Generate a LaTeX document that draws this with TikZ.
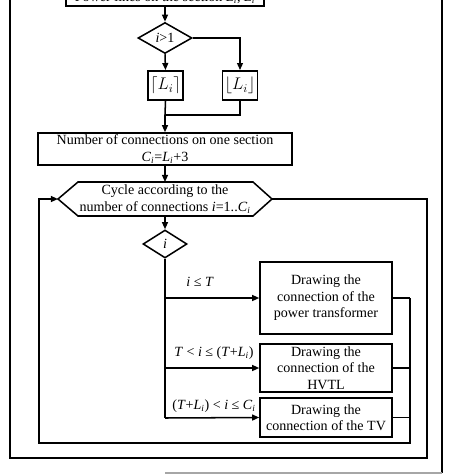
\documentclass[tikz,border=0pt]{standalone}
\usepackage{fontspec}
\setmainfont{Liberation Serif}
\usetikzlibrary{arrows.meta,shapes.geometric}
\newcommand{\vsub}[2]{\textit{#1}\textsubscript{\textit{#2}}}
\begin{document}
\begin{tikzpicture}[x=0.03cm,y=-0.03cm,line width=1.3pt,
  txt/.style={font=\fontsize{12}{14}\selectfont,align=center},
  box/.style={txt,draw,rectangle,inner sep=0pt},
  dec/.style={txt,draw,diamond,inner sep=0pt},
  rnd/.style={box,line width=1.6pt,minimum width=35*0.03cm,minimum height=29*0.03cm,font=\fontsize{14}{16}\selectfont},
  arr/.style={-{Triangle[length=6pt,width=5pt]}},
  lbl/.style={txt,inner sep=0pt}]
\useasboundingbox (0,0) rectangle (474,474);
\fill[white] (0,0) rectangle (474,474);
% nodes
\node[box,minimum width=198*0.03cm,minimum height=17*0.03cm,anchor=south] (top) at (165,7) {Power lines on the section \vsub{L}{i}, \vsub{L}{i}};
\node[dec,minimum width=54*0.03cm,minimum height=31*0.03cm] (d1) at (165,38) {\textit{i}>1};
\node[rnd] (ceil) at (165.5,85.5) {$\bigl\lceil L_i\bigr\rceil$};
\node[rnd] (floor) at (240,85.5) {$\bigl\lfloor L_i\bigr\rfloor$};
\coordinate (j) at (165,115);
\node[box,minimum width=254*0.03cm,minimum height=32*0.03cm] (num) at (165,149) {Number of connections on one section\\\vsub{C}{i}=\vsub{L}{i}+3};
\node[lbl] (cyc) at (165,199) {Cycle according to the\\number of connections \textit{i}=1..\vsub{C}{i}};
\coordinate (cycL) at (58,199);
\coordinate (cycR) at (272,199);
\coordinate (cycT) at (165,182);
\coordinate (cycB) at (165,216);
\draw (cycL) -- (78,182) -- (253,182) -- (cycR) -- (253,216) -- (78,216) -- cycle;
\node[dec,minimum width=44*0.03cm,minimum height=28*0.03cm] (d2) at (165,244) {\textit{i}};
\coordinate (bus) at (165,418);
\node[box,minimum width=132*0.03cm,minimum height=72*0.03cm] (b1) at (326,298) {Drawing the\\connection of the\\power transformer};
\node[box,minimum width=132*0.03cm,minimum height=48*0.03cm] (b2) at (326,368) {Drawing the\\connection of the\\HVTL};
\node[box,minimum width=132*0.03cm,minimum height=39*0.03cm] (b3) at (326,417.5) {Drawing the\\connection of the TV};
\node[lbl] (l1) at (200,282) {\textit{i} ≤ \textit{T}};
\node[lbl] (l2) at (214,353) {\textit{T} < \textit{i} ≤ (\textit{T}+\vsub{L}{i})};
\node[lbl] (l3) at (214,406) {(\textit{T}+\vsub{L}{i}) < \textit{i} ≤ \vsub{C}{i}};
\coordinate (rt) at (410,298);
\coordinate (rb) at (410,443);
\coordinate (lb) at (39,443);
\coordinate (ex) at (427,458);
\coordinate (ol) at (10,-5);
\coordinate (ort) at (442,-5);
\coordinate (orb) at (442,473);
\coordinate (gl) at (165,473);
% connectors
\draw[arr] (top.south) -- (d1.north);
\draw[arr] (d1.south) -- (ceil.north);
\draw[arr] (d1.east) -| (floor.north);
\draw (ceil.south) -- (j);
\draw (floor.south) |- (j);
\draw[arr] (j) -- (num.north);
\draw[arr] (num.south) -- (cycT);
\draw[arr] (cycB) -- (d2.north);
\draw (d2.south) -- (bus);
\draw[arr] (d2.south |- b1.west) -- (b1.west);
\draw[arr] (d2.south |- b2.west) -- (b2.west);
\draw[arr] (bus) -- (b3.west);
\draw (b1.east) -- (rt);
\draw (b2.east) -- (b2.east -| rt);
\draw (b3.east) -- (b3.east -| rt);
\draw[arr] (rt) -- (rb) -- (lb) |- (cycL);
\draw (cycR) -| (ex) -| (ol);
\draw (ort) -- (orb);
\draw[gray!70] (orb) -- (gl);
\end{tikzpicture}
\end{document}
